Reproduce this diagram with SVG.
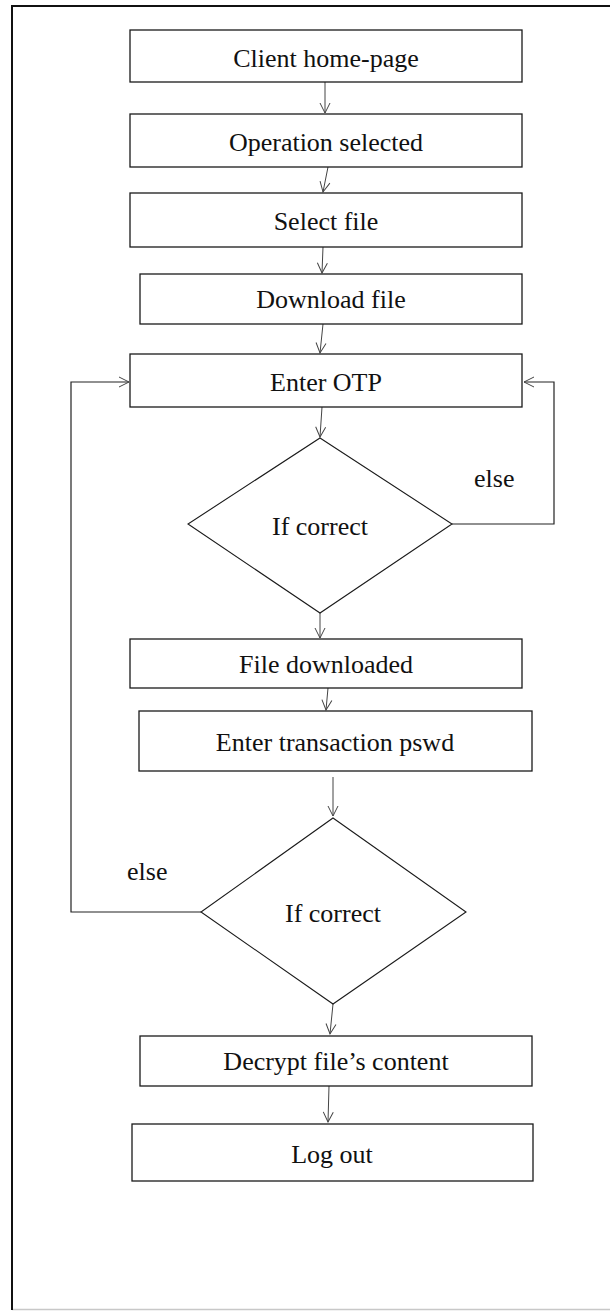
<svg xmlns="http://www.w3.org/2000/svg" width="610" height="1311" viewBox="0 0 610 1311">
<defs>
<style>
.box{fill:#fff;stroke:#1a1a1a;stroke-width:1.3}
.dia{fill:#fff;stroke:#1a1a1a;stroke-width:1.1}
.t{font-family:"Liberation Serif","Times New Roman",serif;font-size:26px;fill:#111;text-anchor:middle}
.lbl{font-family:"Liberation Serif","Times New Roman",serif;font-size:26px;fill:#111}
.c{fill:none;stroke:#444;stroke-width:1}
.loop{fill:none;stroke:#222;stroke-width:1.2}
</style>
<marker id="ah" viewBox="0 0 12 12" refX="11" refY="6" markerWidth="12" markerHeight="12" markerUnits="userSpaceOnUse" orient="auto">
<path d="M1,1 L11,6 L1,11" fill="none" stroke="#444" stroke-width="1"/>
</marker>
</defs>
<rect width="610" height="1311" fill="#fff"/>
<g id="frame">
<line x1="12" y1="1309.5" x2="610" y2="1309.5" stroke="#c8c8c8" stroke-width="1.5"/>
<line x1="11" y1="6" x2="610" y2="6" stroke="#111" stroke-width="2"/>
<line x1="12" y1="5" x2="12" y2="1310" stroke="#111" stroke-width="2"/>
</g>
<g id="connectors">
<line class="c" x1="325" y1="82" x2="325" y2="113" marker-end="url(#ah)"/>
<line class="c" x1="328" y1="167" x2="323" y2="192" marker-end="url(#ah)"/>
<line class="c" x1="323" y1="247" x2="322" y2="273" marker-end="url(#ah)"/>
<line class="c" x1="323" y1="324" x2="320" y2="353" marker-end="url(#ah)"/>
<line class="c" x1="322" y1="407" x2="320" y2="437" marker-end="url(#ah)"/>
<line class="c" x1="320" y1="613" x2="320" y2="638" marker-end="url(#ah)"/>
<line class="c" x1="328" y1="688" x2="326" y2="710" marker-end="url(#ah)"/>
<line class="c" x1="333" y1="777" x2="333" y2="816" marker-end="url(#ah)"/>
<line class="c" x1="333" y1="1004" x2="330" y2="1034" marker-end="url(#ah)"/>
<line class="c" x1="329" y1="1086" x2="328" y2="1122" marker-end="url(#ah)"/>
<polyline class="loop" points="201,912 71,912 71,382 129,382" marker-end="url(#ah)"/>
<polyline class="loop" points="452,524 554,524 554,382 524,382" marker-end="url(#ah)"/>
<text class="lbl" x="474" y="487">else</text>
<text class="lbl" x="127" y="880">else</text>
</g>
<g id="n1"><rect class="box" x="130" y="30" width="392" height="52"/><text class="t" x="326" y="67">Client home-page</text></g>
<g id="n2"><rect class="box" x="130" y="114" width="392" height="53"/><text class="t" x="326" y="151">Operation selected</text></g>
<g id="n3"><rect class="box" x="130" y="193" width="392" height="54"/><text class="t" x="326" y="230">Select file</text></g>
<g id="n4"><rect class="box" x="140" y="274" width="382" height="50"/><text class="t" x="331" y="308">Download file</text></g>
<g id="n5"><rect class="box" x="130" y="354" width="392" height="53"/><text class="t" x="326" y="391">Enter OTP</text></g>
<g id="d1"><polygon class="dia" points="320,438 452,524 320,613 188,524"/><text class="t" x="320" y="535">If correct</text></g>
<g id="n6"><rect class="box" x="130" y="639" width="392" height="49"/><text class="t" x="326" y="673">File downloaded</text></g>
<g id="n7"><rect class="box" x="139" y="711" width="393" height="60"/><text class="t" x="335" y="751">Enter transaction pswd</text></g>
<g id="d2"><polygon class="dia" points="333,818 466,912 333,1004 201,912"/><text class="t" x="333" y="922">If correct</text></g>
<g id="n8"><rect class="box" x="140" y="1036" width="392" height="50"/><text class="t" x="336" y="1070">Decrypt file’s content</text></g>
<g id="n9"><rect class="box" x="132" y="1124" width="401" height="57"/><text class="t" x="332" y="1163">Log out</text></g>
</svg>
